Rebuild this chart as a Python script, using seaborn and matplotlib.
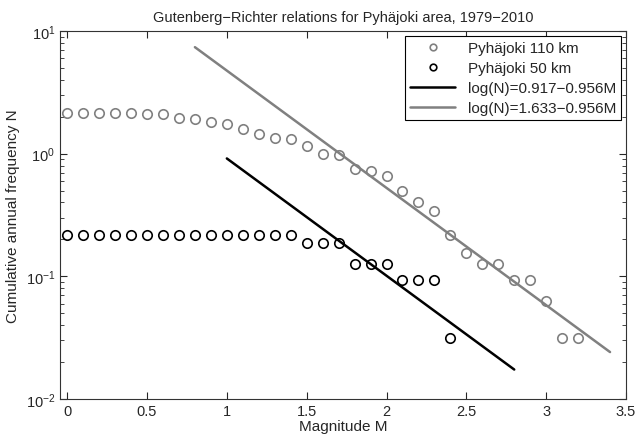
import numpy as np
import pandas as pd
import matplotlib
matplotlib.use("Agg")
import matplotlib.pyplot as plt
import seaborn as sns

# Cumulative annual frequency (counts / 32 years, 1979-2010)
mag_110 = [0.0, 0.1, 0.2, 0.3, 0.4, 0.5, 0.6, 0.7, 0.8, 0.9, 1.0, 1.1, 1.2, 1.3, 1.4, 1.5,
           1.6, 1.7, 1.8, 1.9, 2.0, 2.1, 2.2, 2.3, 2.4, 2.5, 2.6, 2.7, 2.8, 2.9, 3.0, 3.1, 3.2]
counts_110 = [69, 69, 69, 69, 69, 68, 67, 62, 61, 58, 56, 51, 46, 43, 42, 37,
              32, 31, 24, 23, 21, 16, 13, 11, 7, 5, 4, 4, 3, 3, 2, 1, 1]
mag_50 = [0.0, 0.1, 0.2, 0.3, 0.4, 0.5, 0.6, 0.7, 0.8, 0.9, 1.0, 1.1, 1.2, 1.3, 1.4, 1.5,
          1.6, 1.7, 1.8, 1.9, 2.0, 2.1, 2.2, 2.3, 2.4]
counts_50 = [7, 7, 7, 7, 7, 7, 7, 7, 7, 7, 7, 7, 7, 7, 7, 6,
             6, 6, 4, 4, 4, 3, 3, 3, 1]
years = 32

# Gutenberg-Richter fits: log(N) = a - b*M
fit_a = [0.917, 1.633]
fit_b = 0.956
fit_range = [(1.0, 2.8), (0.8, 3.4)]
fit_labels = ['log(N)=0.917\u22120.956M', 'log(N)=1.633\u22120.956M']

df110 = pd.DataFrame({'M': mag_110, 'N': np.array(counts_110) / years})
df50 = pd.DataFrame({'M': mag_50, 'N': np.array(counts_50) / years})

sns.set_style("ticks")
plt.rcParams['font.family'] = ['Liberation Sans', 'DejaVu Sans']

fig = plt.figure(figsize=(6.35, 4.39), dpi=100)
ax = fig.add_axes([60 / 635, 39 / 439, 566 / 635, 368 / 439])

gray = '#808080'
sns.lineplot(data=df110, x='M', y='N', ax=ax, linestyle='none', marker='o',
             markersize=6.8, markerfacecolor='none', markeredgecolor=gray,
             markeredgewidth=1.2, color=gray, label='Pyhäjoki 110 km')
sns.lineplot(data=df50, x='M', y='N', ax=ax, linestyle='none', marker='o',
             markersize=6.8, markerfacecolor='none', markeredgecolor='black',
             markeredgewidth=1.2, color='black', label='Pyhäjoki 50 km')

for a, (m0, m1), lab, col in zip(fit_a, fit_range, fit_labels, ['black', gray]):
    m = np.array([m0, m1])
    fit_df = pd.DataFrame({'M': m, 'N': 10 ** (a - fit_b * m)})
    sns.lineplot(data=fit_df, x='M', y='N', ax=ax, color=col, linewidth=1.8, label=lab)

ax.set_yscale('log')
ax.set_xlim(-0.045, 3.5)
ax.set_ylim(1e-2, 1e1)
ax.set_xticks([0, 0.5, 1, 1.5, 2, 2.5, 3, 3.5])
ax.set_xticklabels(['0', '0.5', '1', '1.5', '2', '2.5', '3', '3.5'])
ax.tick_params(which='both', direction='in', top=True, right=True, labelsize=10.5)
ax.tick_params(which='major', length=5)
ax.tick_params(which='minor', length=3)
for s in ax.spines.values():
    s.set_linewidth(0.8)
    s.set_color('#333333')

ax.set_title('Gutenberg\u2212Richter relations for Pyhäjoki area, 1979\u22122010', fontsize=10.5, pad=7)
ax.set_xlabel('Magnitude M', fontsize=11, labelpad=1)
ax.set_ylabel('Cumulative annual frequency N', fontsize=11)

leg = ax.legend(loc='upper right', fontsize=11, frameon=True, fancybox=False,
                edgecolor='black', framealpha=1, markerscale=0.7,
                handlelength=3, borderpad=0.3, labelspacing=0.4,
                borderaxespad=0.35)
leg.get_frame().set_linewidth(0.8)

fig.savefig('out.png', dpi=100)
